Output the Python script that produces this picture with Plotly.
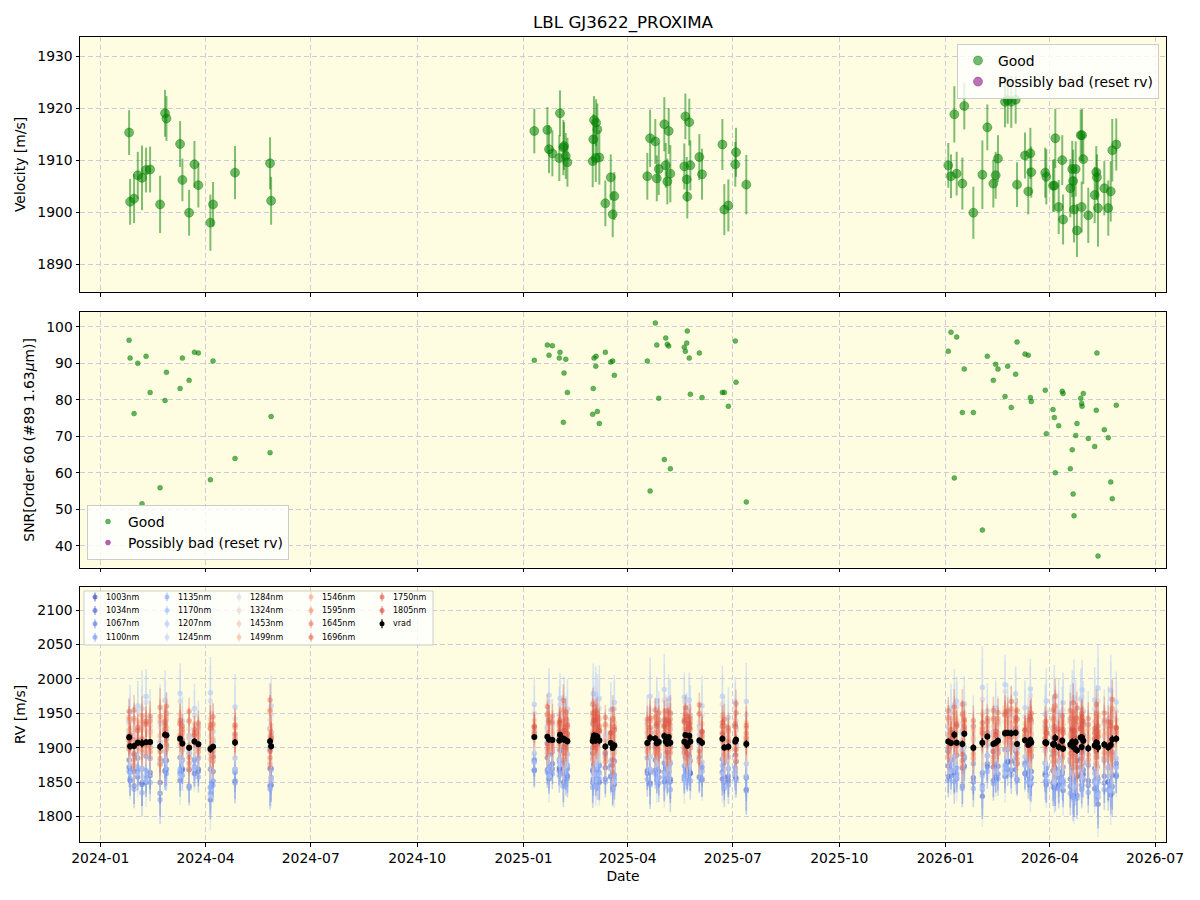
import plotly.graph_objects as go

W, H = 1200, 900
ML, MR, MT, MB = 80, 34, 37, 58

# ---------------- data ----------------
dates = [
    "2024-01-25 22:00", "2024-01-26 19:00", "2024-01-30 05:00", "2024-02-02 10:00", "2024-02-06 02:00",
    "2024-02-09 14:00", "2024-02-13 02:00", "2024-02-21 17:00", "2024-02-26 00:00", "2024-02-27 05:00",
    "2024-03-10 00:00", "2024-03-12 00:00", "2024-03-17 19:00", "2024-03-22 10:00", "2024-03-25 19:00",
    "2024-04-05 05:00", "2024-04-07 12:00", "2024-04-26 12:00", "2024-05-26 19:00", "2024-05-27 17:00",
    "2025-01-10 07:00", "2025-01-21 14:00", "2025-01-23 00:00", "2025-01-25 22:00", "2025-01-31 22:00",
    "2025-02-01 12:00", "2025-02-04 10:00", "2025-02-05 00:00", "2025-02-06 12:00", "2025-02-07 22:00",
    "2025-03-01 19:00", "2025-03-02 07:00", "2025-03-02 22:00", "2025-03-04 10:00", "2025-03-04 17:00",
    "2025-03-05 19:00", "2025-03-07 12:00", "2025-03-12 17:00", "2025-03-17 10:00", "2025-03-19 02:00",
    "2025-03-20 12:00",
    "2025-04-18 00:00", "2025-04-20 10:00", "2025-04-24 22:00", "2025-04-26 05:00", "2025-04-27 22:00",
    "2025-05-02 17:00", "2025-05-03 22:00", "2025-05-05 07:00", "2025-05-06 12:00", "2025-05-07 22:00",
    "2025-05-20 00:00", "2025-05-20 22:00", "2025-05-22 02:00", "2025-05-22 14:00", "2025-05-24 07:00",
    "2025-05-25 05:00", "2025-06-02 00:00", "2025-06-04 07:00",
    "2025-06-21 22:00", "2025-06-23 14:00", "2025-06-27 02:00", "2025-07-03 02:00", "2025-07-03 17:00",
    "2025-07-12 14:00",
    "2026-01-03 06:00", "2026-01-05 14:00", "2026-01-08 11:00", "2026-01-10 12:00", "2026-01-15 10:00",
    "2026-01-17 02:00", "2026-01-24 22:00", "2026-02-01 17:00", "2026-02-06 00:00", "2026-02-11 05:00",
    "2026-02-13 05:00", "2026-02-15 05:00", "2026-02-21 07:00", "2026-02-23 14:00", "2026-02-26 17:00",
    "2026-03-02 12:00", "2026-03-03 17:00", "2026-03-10 14:00", "2026-03-13 10:00", "2026-03-15 05:00",
    "2026-03-16 00:00", "2026-03-28 02:00", "2026-03-29 00:00", "2026-04-03 19:00", "2026-04-04 22:00",
    "2026-04-05 19:00", "2026-04-08 17:00", "2026-04-11 19:00", "2026-04-12 12:00", "2026-04-18 18:00",
    "2026-04-20 10:00", "2026-04-21 05:00", "2026-04-21 23:00", "2026-04-23 10:00", "2026-04-24 12:00",
    "2026-04-27 18:00", "2026-04-28 14:00", "2026-04-28 22:00", "2026-04-30 00:00", "2026-05-04 07:00",
    "2026-05-09 20:00", "2026-05-11 05:00", "2026-05-11 19:00", "2026-05-12 17:00", "2026-05-18 04:00",
    "2026-05-21 14:00", "2026-05-23 17:00", "2026-05-25 01:00", "2026-05-28 12:00",
]

velocity = [
    1915.3, 1902.0, 1902.6, 1907.1, 1906.6, 1908.1, 1908.2, 1901.5, 1919.0, 1918.0,
    1913.1, 1906.2, 1899.9, 1909.2, 1905.2, 1898.0, 1901.5, 1907.6, 1909.4, 1902.2,
    1915.6, 1915.8, 1912.1, 1911.3, 1910.4, 1919.0, 1912.4, 1912.7, 1910.8, 1909.6,
    1909.8, 1914.0, 1917.7, 1910.4, 1917.2, 1915.9, 1910.5, 1901.7, 1906.7, 1899.6, 1903.1,
    1906.9, 1914.2, 1913.6, 1906.5, 1908.3, 1916.9, 1909.0, 1905.9, 1915.6, 1907.4,
    1908.8, 1918.4, 1906.3, 1903.0, 1917.3, 1909.0, 1910.6, 1907.3,
    1913.0, 1900.5, 1901.3, 1909.2, 1911.5, 1905.3,
    1909.0, 1906.9, 1918.8, 1907.4, 1905.5, 1920.4, 1899.9, 1907.2, 1916.3, 1905.5,
    1907.1, 1910.3, 1921.2, 1921.5, 1921.2, 1921.6, 1905.3, 1910.9, 1904.0, 1911.3,
    1907.7, 1907.6, 1906.8, 1905.1, 1905.1, 1914.2, 1901.0, 1910.0, 1898.6, 1904.6,
    1908.3, 1906.0, 1900.5, 1908.3, 1896.5, 1914.8, 1901.0, 1914.8, 1910.2, 1899.4,
    1903.3, 1907.7, 1906.7, 1900.8, 1904.6, 1900.8, 1904.0, 1911.9, 1913.0,
]

velocity_err = [
    4.3, 4.4, 4.7, 4.5, 6.2, 4.3, 4.4, 5.5, 4.5, 4.3,
    4.4, 4.1, 4.4, 4.5, 4.3, 5.4, 4.3, 5.1, 5.0, 4.6,
    4.3, 4.4, 4.6, 4.4, 4.4, 4.4, 5.3, 4.6, 4.4, 4.7,
    5.0, 4.8, 4.6, 4.6, 4.5, 5.0, 5.2, 4.4, 4.4, 4.4, 4.6,
    4.5, 5.5, 4.3, 4.4, 5.0, 5.2, 4.3, 4.4, 4.4, 5.5,
    4.4, 4.4, 4.3, 4.2, 4.5, 4.8, 4.4, 4.9,
    4.9, 4.9, 5.0, 4.3, 4.7, 5.7,
    4.3, 4.2, 5.4, 4.2, 5.0, 4.5, 5.0, 6.6, 4.4, 4.6,
    4.5, 4.5, 4.9, 4.5, 5.0, 4.6, 4.3, 4.4, 4.4, 4.9,
    4.9, 4.8, 5.3, 5.0, 5.1, 5.7, 5.2, 4.8, 4.8, 5.6,
    5.4, 6.0, 6.3, 5.3, 5.1, 4.9, 4.9, 5.0, 4.8, 5.3,
    5.4, 5.0, 4.4, 7.4, 5.2, 5.3, 5.8, 6.0, 5.0,
]

snr = [
    96.3, 91.4, 76.2, 90.0, 51.5, 91.9, 82.0, 55.9, 79.8, 87.5,
    83.1, 91.4, 85.3, 93.0, 92.8, 58.1, 90.6, 63.9, 65.5, 75.4,
    90.8, 95.0, 92.2, 94.8, 91.4, 93.0, 73.8, 87.3, 91.1, 82.0,
    76.0, 83.1, 91.4, 89.2, 91.9, 76.8, 73.5, 93.0, 90.3, 90.6, 86.7,
    90.6, 55.0, 101.0, 95.0, 80.4, 63.6, 96.9, 95.2, 94.7, 61.1,
    94.4, 93.3, 95.5, 98.8, 91.4, 81.5, 92.8, 80.6,
    82.0, 82.0, 78.2, 96.1, 84.8, 52.0,
    93.3, 98.5, 58.6, 97.2, 76.5, 88.4, 76.5, 44.3, 91.9, 85.3,
    89.7, 88.4, 80.9, 89.2, 77.9, 87.0, 95.8, 92.5, 92.2, 80.6,
    79.5, 82.6, 70.7, 77.3, 75.1, 60.0, 72.9, 82.3, 81.7, 61.1,
    66.3, 54.2, 48.2, 70.2, 73.5, 80.4, 79.0, 78.2, 81.7, 69.4,
    67.2, 77.1, 92.8, 37.2, 71.8, 69.6, 57.5, 52.9, 78.5,
]

# per-epoch chromatic spread and per-epoch band scatter (estimated from the lower panel)
band_spread = [
    0.9, 1.0, 1.1, 0.9, 1.4, 1.0, 1.1, 1.4, 1.1, 1.0,
    1.1, 0.9, 1.0, 0.9, 0.9, 1.3, 1.0, 1.2, 1.2, 1.1,
    1.0, 0.9, 1.0, 0.9, 1.0, 0.9, 1.2, 1.0, 1.0, 1.1,
    1.2, 1.1, 1.0, 1.0, 0.9, 1.2, 1.2, 0.9, 1.0, 1.0, 1.0,
    1.0, 1.4, 0.9, 0.9, 1.1, 1.3, 0.9, 0.9, 0.9, 1.3,
    0.9, 0.9, 0.9, 0.8, 1.0, 1.1, 0.9, 1.1,
    1.1, 1.1, 1.1, 0.9, 1.0, 1.4,
    1.0, 0.9, 1.3, 0.9, 1.1, 1.0, 1.1, 1.5, 1.0, 1.0,
    1.0, 1.0, 1.1, 1.0, 1.1, 1.0, 0.9, 1.0, 1.0, 1.1,
    1.1, 1.1, 1.2, 1.1, 1.2, 1.3, 1.2, 1.1, 1.1, 1.3,
    1.2, 1.4, 1.4, 1.2, 1.2, 1.1, 1.1, 1.1, 1.1, 1.2,
    1.2, 1.1, 1.0, 1.6, 1.2, 1.2, 1.3, 1.4, 1.1,
]
band_twist = [
    12, -8, 20, -15, 5, -22, 9, 18, -5, 14, -18, 3, 22, -10, 7, -25, 15, -3, 24, -12,
    -6, 17, -20, 10, 2, -14, 21, -9, 13, -2, 19, -17, 6, -23, 11, 4, -11, 16, -7, 25,
    -19, 8, -4, 15, -21, 12, -13, 3, 20, -16, 9, -24, 14, -1, 18, -10, 5, 23, -8, -15,
    11, 1, -18, 22, -5,
    16, -12, 7, -20, 24, -3, 10, -17, 2, 19, -9, 13, -22, 6, 15, -14, 21, -6, 9, -25,
    12, 3, -11, 18, -16, 23, -2, 8, -19, 14, -7, 20, -13, 5, 25, -10, 17, -21, 1, 11,
    -15, 22, -4, -18, 13, 6, -23, 19, -8,
]

band_labels = ["1003nm", "1034nm", "1067nm", "1100nm", "1135nm", "1170nm", "1207nm", "1245nm", "1284nm",
               "1324nm", "1453nm", "1499nm", "1546nm", "1595nm", "1645nm", "1696nm", "1750nm", "1805nm"]
band_offset = [-45, -38, -30, -50, -15, 40, -30, 25, 10, -5, 5, 20, 12, -2, 20, 2, 24, 8]
band_pattern = [0.6, -0.8, 1.0, -0.4, 1.5, -1.2, 1.2, -1.5, 0.8, -1.0, 0.5, -0.7, 1.2, -1.3, 0.9, -1.1, 1.3, -1.0]
band_err = [22, 24, 22, 25, 30, 40, 38, 40, 30, 32, 25, 22, 20, 20, 18, 18, 20, 22]

bad_dates = []
bad_velocity = []
bad_velocity_err = []
bad_snr = []

# ---------------- styles ----------------
band_rgb = [(59, 76, 192), (76, 102, 214), (95, 127, 232), (115, 150, 245), (136, 171, 253), (157, 189, 255),
            (177, 203, 252), (196, 214, 243), (213, 219, 230), (229, 216, 210), (240, 205, 187), (246, 190, 164),
            (247, 171, 141), (243, 148, 117), (236, 127, 99), (229, 112, 88), (222, 96, 77), (213, 80, 66)]
band_alpha = [0.5, 0.5, 0.5, 0.5, 0.5, 0.5, 0.5, 0.55, 0.6, 0.6, 0.6, 0.55, 0.5, 0.5, 0.45, 0.45, 0.42, 0.42]


def rgba(c, a):
    return "rgba(%d,%d,%d,%.2f)" % (c[0], c[1], c[2], a)


def or_blank(seq):
    # an empty series still gets a legend entry in the reference
    return seq if len(seq) else [None]


FONT = "DejaVu Sans"
GREEN = (0, 128, 0)
PURPLE = (128, 0, 128)

fig = go.Figure()

# ---- top panel: velocity ----
fig.add_trace(go.Scatter(
    x=dates, y=velocity, mode="markers", name="Good",
    error_y=dict(type="data", array=velocity_err, color=rgba(GREEN, 0.5), thickness=2, width=0),
    marker=dict(color=rgba(GREEN, 0.55), size=9, line=dict(width=1, color=rgba(GREEN, 0.4))),
    xaxis="x3", yaxis="y3", legend="legend",
))
fig.add_trace(go.Scatter(
    x=or_blank(bad_dates), y=or_blank(bad_velocity), mode="markers", name="Possibly bad (reset rv)",
    error_y=dict(type="data", array=or_blank(bad_velocity_err), color=rgba(PURPLE, 0.5), thickness=2, width=0),
    marker=dict(color=rgba(PURPLE, 0.55), size=9, line=dict(width=1, color=rgba(PURPLE, 0.4))),
    xaxis="x3", yaxis="y3", legend="legend",
))

# ---- middle panel: SNR ----
fig.add_trace(go.Scatter(
    x=dates, y=snr, mode="markers", name="Good",
    marker=dict(color=rgba(GREEN, 0.6), size=5, line=dict(width=0.6, color=rgba(GREEN, 0.5))),
    xaxis="x2", yaxis="y2", legend="legend2",
))
fig.add_trace(go.Scatter(
    x=or_blank(bad_dates), y=or_blank(bad_snr), mode="markers", name="Possibly bad (reset rv)",
    marker=dict(color=rgba(PURPLE, 0.6), size=5, line=dict(width=0.6, color=rgba(PURPLE, 0.5))),
    xaxis="x2", yaxis="y2", legend="legend2",
))

# ---- bottom panel: per-band RVs ----
for i, lab in enumerate(band_labels):
    yv = [v + s * band_offset[i] + t * band_pattern[i]
          for v, s, t in zip(velocity, band_spread, band_twist)]
    ev = [s * band_err[i] for s in band_spread]
    fig.add_trace(go.Scatter(
        x=dates, y=yv, mode="markers", name=lab, showlegend=False,
        error_y=dict(type="data", array=ev, color=rgba(band_rgb[i], band_alpha[i] * 0.75), thickness=1.6, width=0),
        marker=dict(color=rgba(band_rgb[i], band_alpha[i]), size=5.5),
        xaxis="x", yaxis="y",
    ))
fig.add_trace(go.Scatter(
    x=dates, y=velocity, mode="markers", name="vrad", showlegend=False,
    error_y=dict(type="data", array=velocity_err, color="black", thickness=1.5, width=0),
    marker=dict(color="black", size=6),
    xaxis="x", yaxis="y",
))

# ---------------- layout ----------------
PW = W - ML - MR
PH = H - MT - MB


def px2x(px):
    return (px - ML) / PW


def px2y(py):
    return (H - MB - py) / PH


axis_common = dict(
    showline=True, linecolor="black", linewidth=1, mirror=True,
    ticks="outside", ticklen=3.5, tickwidth=1, tickcolor="black",
    showgrid=True, gridcolor="#cdcdd6", gridwidth=1, griddash="5px,3px",
    zeroline=False, tickfont=dict(family=FONT, size=13.9, color="black"),
)

xrange = ["2023-12-14 11:00", "2026-07-10 12:00"]
xcommon = dict(axis_common, type="date", range=xrange, dtick="M3", tick0="2024-01-01", tickformat="%Y-%m")

fig.update_layout(
    width=W, height=H,
    margin=dict(l=ML, r=MR, t=MT, b=MB, autoexpand=False),
    paper_bgcolor="white", plot_bgcolor="#FFFDE1",
    font=dict(family=FONT, size=13.9, color="black"),
    title=dict(text="LBL GJ3622_PROXIMA", x=0.5, xref="paper", xanchor="center",
               y=1 - 22 / H, yanchor="middle", font=dict(family=FONT, size=16.7, color="black")),
    xaxis=dict(xcommon, anchor="y", domain=[0, 1],
               title=dict(text="Date", font=dict(family=FONT, size=13.9), standoff=6)),
    xaxis2=dict(xcommon, anchor="y2", domain=[0, 1], matches="x", showticklabels=False),
    xaxis3=dict(xcommon, anchor="y3", domain=[0, 1], matches="x", showticklabels=False),
    yaxis=dict(axis_common, domain=[0, px2y(587)], range=[1763.0, 2133.6], dtick=50, tick0=1800,
               title=dict(text="RV [m/s]", font=dict(family=FONT, size=13.9), standoff=8)),
    yaxis2=dict(axis_common, domain=[px2y(567.5), px2y(312.3)], range=[34.06, 103.94], dtick=10, tick0=40,
                title=dict(text="SNR[Order 60 (#89 1.63<i>μ</i>m)]", font=dict(family=FONT, size=13.9), standoff=8)),
    yaxis3=dict(axis_common, domain=[px2y(292), 1], range=[1884.68, 1933.65], dtick=10, tick0=1890,
                title=dict(text="Velocity [m/s]", font=dict(family=FONT, size=13.9), standoff=8)),
    legend=dict(x=px2x(1159), y=px2y(44), xanchor="right", yanchor="top",
                bgcolor="rgba(255,255,255,0.8)", bordercolor="#cccccc", borderwidth=1,
                font=dict(family=FONT, size=13.9)),
    legend2=dict(x=px2x(87), y=px2y(560), xanchor="left", yanchor="bottom",
                 bgcolor="rgba(255,255,255,0.8)", bordercolor="#cccccc", borderwidth=1,
                 font=dict(family=FONT, size=13.9)),
)

# ---- compact 5-column legend for the lower panel ----
shapes = [dict(type="rect", xref="paper", yref="paper", layer="above",
               x0=px2x(84), x1=px2x(433), y0=px2y(645), y1=px2y(591),
               fillcolor="rgba(255,255,255,0.8)", line=dict(color="#cccccc", width=1))]
annotations = []
entries = [(lab, band_rgb[i], 0.65) for i, lab in enumerate(band_labels)] + [("vrad", (0, 0, 0), 1.0)]
col_marker_px = [95, 167, 239, 311, 382]
col_text_px = [104, 176, 248, 320, 391]
row_px = [597, 610.4, 623.8, 637.2]
for k, (lab, col, alpha) in enumerate(entries):
    c, r = divmod(k, 4)
    mx, my = col_marker_px[c], row_px[r]
    shapes.append(dict(type="line", xref="paper", yref="paper", layer="above",
                       x0=px2x(mx), x1=px2x(mx), y0=px2y(my - 4.5), y1=px2y(my + 4.5),
                       line=dict(color=rgba(col, alpha * 0.8), width=1.5)))
    shapes.append(dict(type="circle", xref="paper", yref="paper", layer="above",
                       x0=px2x(mx - 2.5), x1=px2x(mx + 2.5), y0=px2y(my + 2.5), y1=px2y(my - 2.5),
                       fillcolor=rgba(col, alpha), line=dict(width=0)))
    annotations.append(dict(text=lab, xref="paper", yref="paper", x=px2x(col_text_px[c]), y=px2y(my),
                            xanchor="left", yanchor="middle", showarrow=False,
                            font=dict(family=FONT, size=8, color="black")))

fig.update_layout(shapes=shapes, annotations=annotations)

fig.write_html("out.html")
